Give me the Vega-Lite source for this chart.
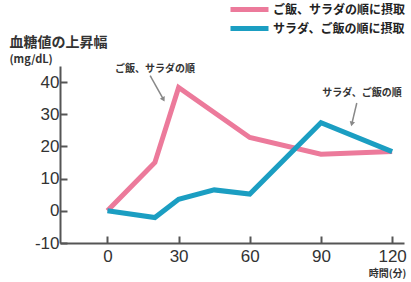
{
  "$schema": "https://vega.github.io/schema/vega-lite/v6.json",
  "width": 344,
  "height": 177,
  "autosize": {"type": "none"},
  "padding": {"left": 60, "top": 66, "right": 7, "bottom": 39},
  "background": "white",
  "config": {
    "view": {"stroke": null},
    "font": "Noto Sans CJK JP",
    "axis": {"labelOverlap": false, "grid": false}
  },
  "title": {
    "text": "血糖値の上昇幅",
    "subtitle": "(mg/dL)",
    "anchor": "start",
    "dx": -25,
    "dy": 66,
    "fontSize": 14,
    "fontWeight": "bold",
    "color": "#333",
    "subtitleFontSize": 11,
    "subtitleColor": "#333",
    "subtitleFontWeight": "bold",
    "subtitlePadding": 4,
    "offset": 3
  },
  "datasets": {
    "series": [
      {"series": "ご飯、サラダの順に摂取", "time": 0, "value": 0},
      {"series": "ご飯、サラダの順に摂取", "time": 20, "value": 15},
      {"series": "ご飯、サラダの順に摂取", "time": 30, "value": 38.3},
      {"series": "ご飯、サラダの順に摂取", "time": 60, "value": 22.8},
      {"series": "ご飯、サラダの順に摂取", "time": 90, "value": 17.6},
      {"series": "ご飯、サラダの順に摂取", "time": 120, "value": 18.4},
      {"series": "サラダ、ご飯の順に摂取", "time": 0, "value": 0},
      {"series": "サラダ、ご飯の順に摂取", "time": 20, "value": -2.1},
      {"series": "サラダ、ご飯の順に摂取", "time": 30, "value": 3.6},
      {"series": "サラダ、ご飯の順に摂取", "time": 45, "value": 6.5},
      {"series": "サラダ、ご飯の順に摂取", "time": 60, "value": 5.2},
      {"series": "サラダ、ご飯の順に摂取", "time": 90, "value": 27.4},
      {"series": "サラダ、ご飯の順に摂取", "time": 120, "value": 18.4}
    ],
    "notes": [
      {"id": 1, "label": "ご飯、サラダの順", "tx": 20, "ty": 44.2, "ax": 18, "ay": 42, "bx": 23.6, "by": 34.6},
      {"id": 2, "label": "サラダ、ご飯の順", "tx": 107.3, "ty": 36.6, "ax": 105.1, "ay": 33.5, "bx": 103, "by": 27}
    ]
  },
  "layer": [
    {
      "data": {"name": "series"},
      "mark": {"type": "line", "strokeWidth": 5},
      "encoding": {
        "x": {
          "field": "time",
          "type": "quantitative",
          "scale": {"domain": [-20, 125], "nice": false, "zero": false},
          "axis": {
            "values": [0, 30, 60, 90, 120],
            "tickCount": 20,
            "grid": false,
            "domainColor": "#555",
            "domainWidth": 2,
            "tickColor": "#555",
            "tickWidth": 2,
            "tickSize": -7,
            "labelFont": "Liberation Sans",
            "labelFontSize": 17,
            "labelColor": "#333",
            "labelPadding": 12,
            "labelOverlap": false,
            "labelExpr": "'' + datum.value",
            "title": "時間(分)",
            "titleX": 327,
            "titleY": 30,
            "titleAlign": "center",
            "titleBaseline": "middle",
            "titleFontSize": 10,
            "titleFontWeight": "bold",
            "titleColor": "#333"
          }
        },
        "y": {
          "field": "value",
          "type": "quantitative",
          "scale": {"domain": [-10, 45], "nice": false, "zero": false},
          "axis": {
            "values": [-10, 0, 10, 20, 30, 40],
            "tickCount": 20,
            "grid": false,
            "domainColor": "#555",
            "domainWidth": 2,
            "tickColor": "#555",
            "tickWidth": 2,
            "tickSize": -7,
            "labelFont": "Liberation Sans",
            "labelFontSize": 17,
            "labelColor": "#333",
            "labelPadding": 8,
            "labelOverlap": false,
            "labelExpr": "'' + datum.value",
            "title": null
          }
        },
        "color": {
          "field": "series",
          "type": "nominal",
          "scale": {
            "domain": ["ご飯、サラダの順に摂取", "サラダ、ご飯の順に摂取"],
            "range": ["#EC7A9B", "#1B9EC2"]
          },
          "legend": {
            "orient": "none",
            "legendX": 182,
            "legendY": -64,
            "padding": 0,
            "title": null,
            "symbolType": "M-3.8,0H3.8",
            "symbolSize": 100,
            "symbolStrokeWidth": 5,
            "labelFontSize": 12,
            "labelFontWeight": "bold",
            "labelColor": "#222",
            "labelLimit": 300,
            "labelOffset": 16,
            "rowPadding": -2
          }
        }
      }
    },
    {
      "data": {"name": "notes"},
      "mark": {"type": "rule", "color": "#888", "strokeWidth": 1.5},
      "encoding": {
        "x": {"field": "ax", "type": "quantitative"},
        "y": {"field": "ay", "type": "quantitative"},
        "x2": {"field": "bx"},
        "y2": {"field": "by"}
      }
    },
    {
      "data": {"name": "notes"},
      "transform": [{"filter": "datum.id == 1"}],
      "mark": {"type": "point", "shape": "triangle-up", "filled": true, "color": "#888", "size": 30, "angle": 152, "opacity": 1},
      "encoding": {
        "x": {"field": "bx", "type": "quantitative"},
        "y": {"field": "by", "type": "quantitative"}
      }
    },
    {
      "data": {"name": "notes"},
      "transform": [{"filter": "datum.id == 2"}],
      "mark": {"type": "point", "shape": "triangle-up", "filled": true, "color": "#888", "size": 30, "angle": 194, "opacity": 1},
      "encoding": {
        "x": {"field": "bx", "type": "quantitative"},
        "y": {"field": "by", "type": "quantitative"}
      }
    },
    {
      "data": {"name": "notes"},
      "mark": {"type": "text", "fontSize": 10, "fontWeight": "bold", "color": "#333", "align": "center", "baseline": "middle"},
      "encoding": {
        "x": {"field": "tx", "type": "quantitative"},
        "y": {"field": "ty", "type": "quantitative"},
        "text": {"field": "label"}
      }
    }
  ]
}
